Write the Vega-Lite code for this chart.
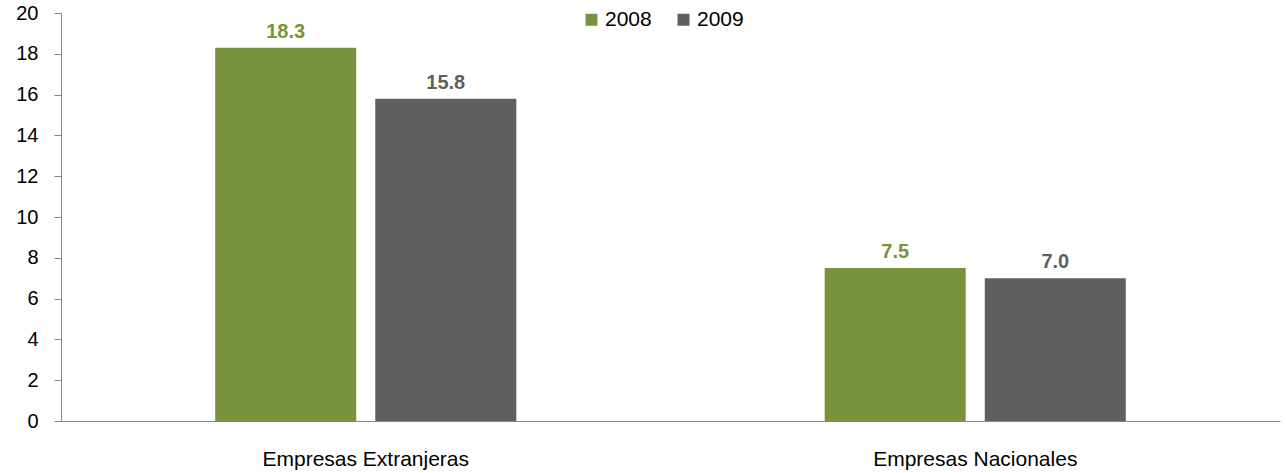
{
  "$schema": "https://vega.github.io/schema/vega-lite/v6.json",
  "autosize": "none",
  "width": 1219,
  "height": 408,
  "padding": {"left": 61, "top": 13, "right": 6, "bottom": 52},
  "config": {
    "view": {"stroke": null},
    "font": "Liberation Sans",
    "axis": {"grid": false, "domainColor": "#868686", "tickColor": "#868686", "labelColor": "#000000", "labelFont": "Liberation Sans", "labelFontSize": 20}
  },
  "data": {
    "values": [
      {"grupo": "Empresas Extranjeras", "anio": "2008", "valor": 18.3},
      {"grupo": "Empresas Extranjeras", "anio": "2009", "valor": 15.8},
      {"grupo": "Empresas Nacionales", "anio": "2008", "valor": 7.5},
      {"grupo": "Empresas Nacionales", "anio": "2009", "valor": 7.0}
    ]
  },
  "encoding": {
    "x": {"field": "grupo", "type": "nominal", "title": null, "sort": null,
      "scale": {"paddingInner": 0.506, "paddingOuter": 0.253},
      "axis": {"labelAngle": 0, "ticks": false, "labelPadding": 27, "labelFontSize": 21, "labelLimit": 0, "domainColor": "#868686"}},
    "xOffset": {"field": "anio", "type": "nominal", "scale": {"paddingInner": 0.119, "paddingOuter": 0}},
    "y": {"field": "valor", "type": "quantitative", "title": null,
      "scale": {"domain": [0, 20], "nice": false},
      "axis": {"values": [0, 2, 4, 6, 8, 10, 12, 14, 16, 18, 20], "tickSize": 7, "labelPadding": 16, "domainColor": "#868686"}}
  },
  "layer": [
    {
      "mark": {"type": "bar"},
      "encoding": {
        "color": {"field": "anio", "type": "nominal", "title": null,
          "scale": {"domain": ["2008", "2009"], "range": ["#77933C", "#5F5F5F"]},
          "legend": {"orient": "none", "legendX": 520, "legendY": -4, "direction": "horizontal", "symbolType": "square", "symbolSize": 144, "symbolStrokeWidth": 0, "labelFontSize": 21, "labelColor": "#000000", "labelFont": "Liberation Sans", "columnPadding": 21, "labelOffset": 3}}
      }
    },
    {
      "mark": {"type": "text", "baseline": "bottom", "dy": -6, "fontSize": 20, "fontWeight": "bold", "font": "Liberation Sans"},
      "encoding": {
        "text": {"field": "valor", "type": "quantitative", "format": ".1f"},
        "color": {"field": "anio", "type": "nominal", "scale": {"domain": ["2008", "2009"], "range": ["#77933C", "#5F5F5F"]}, "legend": null}
      }
    }
  ]
}
